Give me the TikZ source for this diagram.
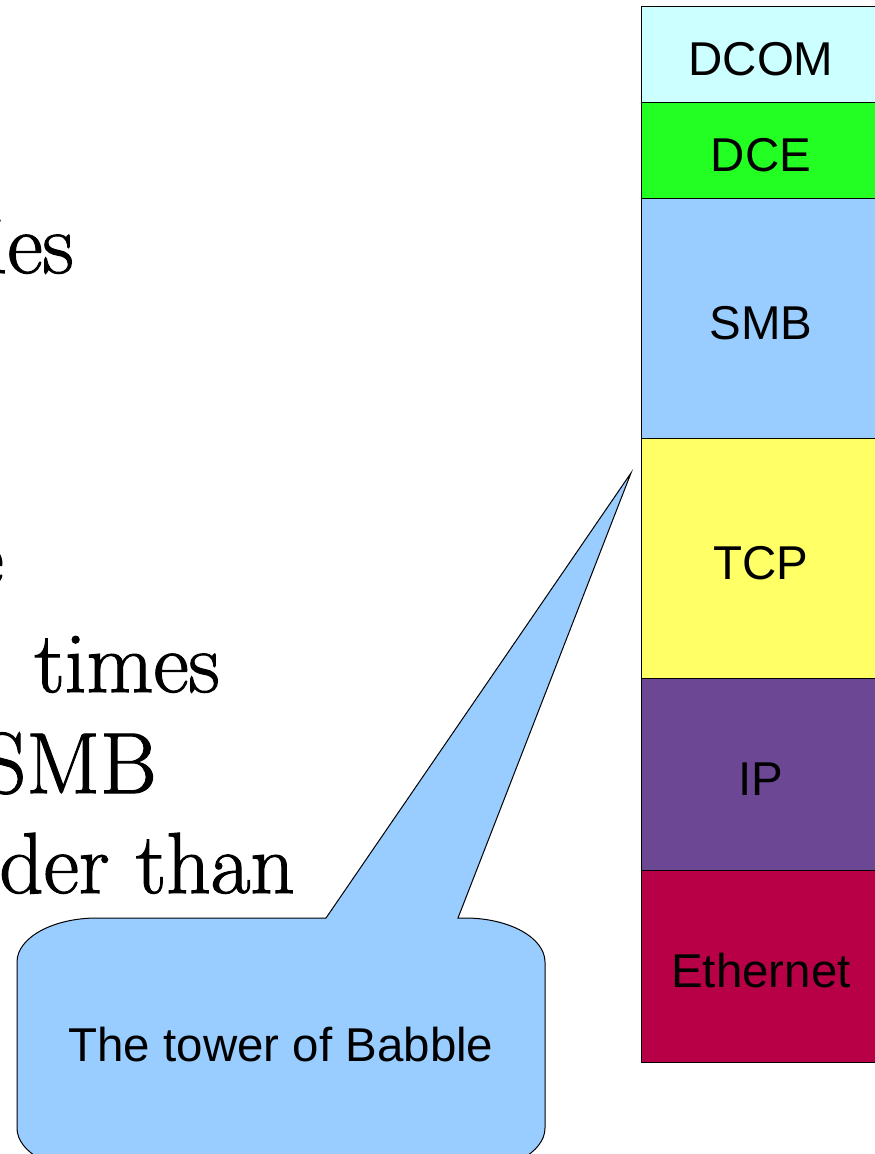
\documentclass[tikz,border=0pt]{standalone}
\usepackage{fontspec}
\newfontfamily\stackfont{Liberation Sans}
\newfontfamily\slidefont[FakeBold=1.3]{Latin Modern Roman}
\definecolor{dcomc}{HTML}{CCFFFF}
\definecolor{dcec}{HTML}{23FF23}
\definecolor{smbc}{HTML}{99CCFF}
\definecolor{tcpc}{HTML}{FFFF66}
\definecolor{ipc}{HTML}{6B4794}
\definecolor{ethc}{HTML}{B80047}
\definecolor{bubblec}{HTML}{99CCFF}
\begin{document}
\begin{tikzpicture}[x=0.75pt,y=-0.75pt,
  layer/.style={draw=black, line width=0.75pt, minimum width=180pt, inner sep=0pt,
    font=\stackfont\fontsize{35.6pt}{40pt}\selectfont, text height=32pt, text depth=0pt},
  slide/.style={anchor=base east, inner sep=0pt, font=\slidefont\fontsize{65pt}{77pt}\selectfont},
  bubble/.style={draw=black, line width=0.75pt, fill=bubblec, line join=miter},
  bubbletext/.style={inner sep=0pt, font=\stackfont\fontsize{35.6pt}{40pt}\selectfont}]
\useasboundingbox (0,0) rectangle (875,1154);
\clip (0,0) rectangle (875,1154);
\fill[white] (0,0) rectangle (875,1154);

% overflowing slide text
\node[slide] (t1) at (74,273) {ies};
\node[slide] (t2) at (4,586) {e};
\node[slide] (t3) at (220,692) {times};
\node[slide] (t4) at (157,793) {SMB};
\node[slide] (t5) at (295,893) {der than};

% protocol stack
\node[layer, fill=dcomc, minimum height=72pt]  (dcom) at (761,54)  {DCOM};
\node[layer, fill=dcec,  minimum height=72pt]  (dce)  at (761,150) {DCE};
\node[layer, fill=smbc,  minimum height=180pt] (smb)  at (761,318) {SMB};
\node[layer, fill=tcpc,  minimum height=180pt] (tcp)  at (761,558) {TCP};
\node[layer, fill=ipc,   minimum height=144pt] (ip)   at (761,774) {IP};
\node[layer, fill=ethc,  minimum height=144pt] (eth)  at (761,966) {Ethernet};

% callout
\coordinate (tip) at (631,473);
\draw[bubble] (17,962) .. controls (17,937.7) and (52.8,918) .. (97,918)
  -- (326,918) -- (tip) -- (458,918) -- (465,918)
  .. controls (509.2,918) and (545,937.7) .. (545,962)
  -- (545,1128) .. controls (545,1152.3) and (509.2,1172) .. (465,1172)
  -- (97,1172) .. controls (52.8,1172) and (17,1152.3) .. (17,1128) -- cycle;
\node[bubbletext] (babble) at (281,1045) {The tower of Babble};
\end{tikzpicture}
\end{document}
